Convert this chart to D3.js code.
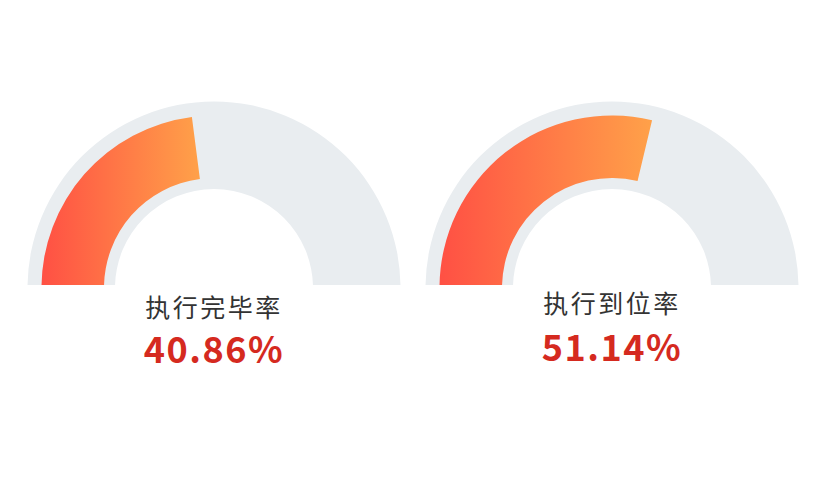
<!DOCTYPE html>
<html>
<head>
<meta charset="utf-8">
<title>执行率</title>
<script src="https://cdn.jsdelivr.net/npm/d3@7/dist/d3.min.js"></script>
<style>
  body { margin: 0; background: #fff; }
  text { font-family: "Noto Sans CJK SC", "Noto Sans", sans-serif; }
</style>
</head>
<body>
<svg width="827" height="500"></svg>
<script>

// data
const labels = ['执行完毕率', '执行到位率'];
const values = [40.86, 51.14];
const gaugeMax = 89;

const svg = d3.select('svg');
const width = +svg.attr('width');

// layout
const cy = 288;
const baseY = 285;
const centers = d3.scalePoint()
    .domain(labels)
    .range([214, 612]);

const angle = d3.scaleLinear()
    .domain([0, gaugeMax])
    .range([-Math.PI / 2, Math.PI / 2]);

const trackArc = d3.arc()
    .innerRadius(99)
    .outerRadius(186.5)
    .startAngle(-Math.PI / 2)
    .endAngle(Math.PI / 2);

const valueArc = d3.arc()
    .innerRadius(110)
    .outerRadius(172.5)
    .startAngle(-Math.PI / 2)
    .endAngle(d => angle(d));

const defs = svg.append('defs');
const grad = defs.append('linearGradient')
    .attr('id', 'fill-grad')
    .attr('x1', 0).attr('x2', 1)
    .attr('y1', 0).attr('y2', 0);
grad.append('stop').attr('offset', '0%').attr('stop-color', '#ff5044');
grad.append('stop').attr('offset', '100%').attr('stop-color', '#ffa149');

// cut off everything below the base line (coords are local to each gauge)
defs.append('clipPath')
    .attr('id', 'cut')
    .append('rect')
    .attr('x', -width).attr('y', 0)
    .attr('width', width * 2).attr('height', baseY);

// the left label sits a bit lower in the picture
const labelY = [317, 313];
const valueY = [363, 361];

const gauges = svg.selectAll('.gauge')
    .data(labels)
    .enter().append('g')
    .attr('class', 'gauge')
    .attr('transform', d => `translate(${centers(d)},0)`);

const dial = gauges.append('g')
    .attr('clip-path', 'url(#cut)')
    .append('g')
    .attr('transform', `translate(0,${cy})`);

dial.append('path')
    .attr('d', trackArc())
    .attr('fill', '#e9edf0');

dial.append('path')
    .attr('d', (d, i) => valueArc(values[i]))
    .attr('fill', 'url(#fill-grad)');

gauges.append('text')
    .attr('x', 0)
    .attr('y', (d, i) => labelY[i])
    .attr('text-anchor', 'middle')
    .attr('font-size', 25)
    .attr('letter-spacing', 2.5)
    .attr('fill', '#333')
    .text(d => d);

gauges.append('text')
    .attr('x', 0)
    .attr('y', (d, i) => valueY[i])
    .attr('text-anchor', 'middle')
    .attr('font-size', 36)
    .attr('font-weight', 'bold')
    .attr('letter-spacing', 1.5)
    .attr('fill', '#d52a1f')
    .text((d, i) => values[i].toFixed(2) + '%');

</script>
</body>
</html>
